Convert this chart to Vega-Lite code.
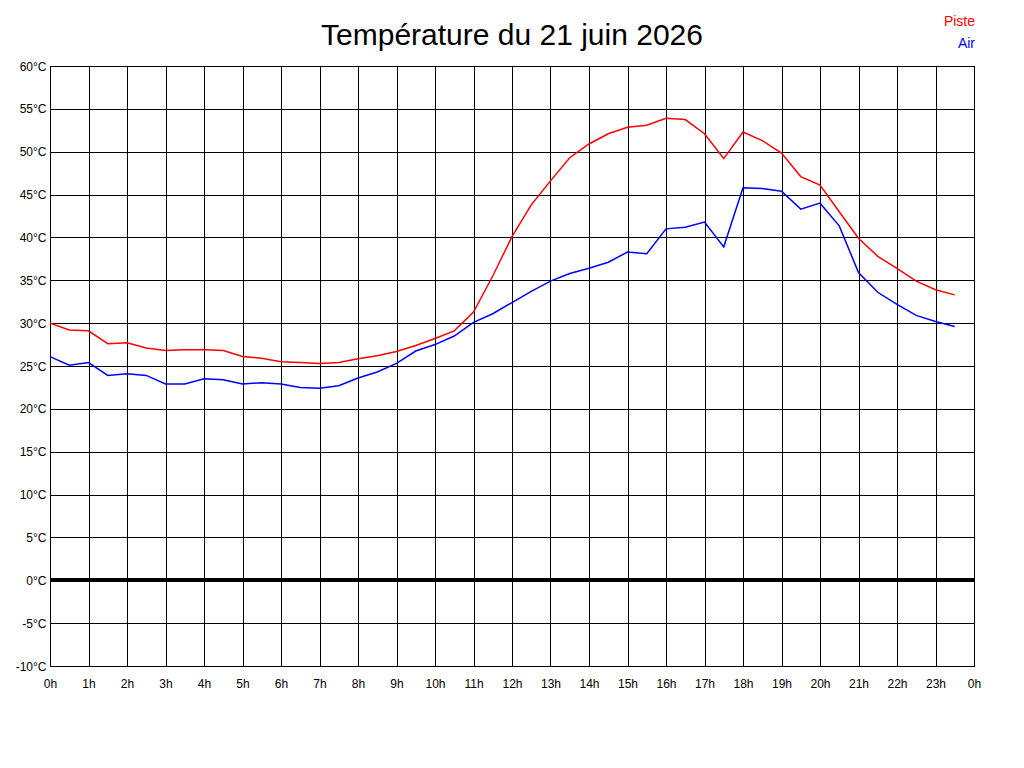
{
  "$schema": "https://vega.github.io/schema/vega-lite/v6.json",
  "autosize": {"type": "none"},
  "width": 924,
  "height": 600,
  "padding": {"left": 50, "top": 66, "right": 50, "bottom": 102},
  "background": "white",
  "title": {
    "text": "Température du 21 juin 2026",
    "font": "Liberation Sans",
    "fontSize": 30,
    "fontWeight": "normal",
    "color": "black",
    "anchor": "middle",
    "baseline": "bottom",
    "offset": -66
  },
  "config": {
    "view": {"stroke": "black", "strokeWidth": 1},
    "axis": {
      "labelFont": "Liberation Sans",
      "labelFontSize": 12,
      "labelColor": "black",
      "grid": true,
      "gridColor": "black",
      "gridOpacity": 1,
      "gridWidth": 1,
      "domain": false,
      "ticks": false,
      "title": null
    }
  },
  "data": {
    "values": [
      {"h": 0, "Piste": 30.0, "Air": 26.1},
      {"h": 0.5, "Piste": 29.2, "Air": 25.1},
      {"h": 1, "Piste": 29.1, "Air": 25.4},
      {"h": 1.5, "Piste": 27.6, "Air": 23.9},
      {"h": 2, "Piste": 27.7, "Air": 24.1},
      {"h": 2.5, "Piste": 27.1, "Air": 23.9},
      {"h": 3, "Piste": 26.8, "Air": 22.9},
      {"h": 3.5, "Piste": 26.9, "Air": 22.9},
      {"h": 4, "Piste": 26.9, "Air": 23.5},
      {"h": 4.5, "Piste": 26.8, "Air": 23.4},
      {"h": 5, "Piste": 26.1, "Air": 22.9},
      {"h": 5.5, "Piste": 25.9, "Air": 23.05},
      {"h": 6, "Piste": 25.5, "Air": 22.9},
      {"h": 6.5, "Piste": 25.4, "Air": 22.5},
      {"h": 7, "Piste": 25.3, "Air": 22.4},
      {"h": 7.5, "Piste": 25.4, "Air": 22.7},
      {"h": 8, "Piste": 25.85, "Air": 23.6},
      {"h": 8.5, "Piste": 26.2, "Air": 24.3},
      {"h": 9, "Piste": 26.7, "Air": 25.3},
      {"h": 9.5, "Piste": 27.4, "Air": 26.75},
      {"h": 10, "Piste": 28.2, "Air": 27.5},
      {"h": 10.5, "Piste": 29.1, "Air": 28.5},
      {"h": 11, "Piste": 31.3, "Air": 30.1},
      {"h": 11.5, "Piste": 35.5, "Air": 31.1},
      {"h": 12, "Piste": 40.1, "Air": 32.4},
      {"h": 12.5, "Piste": 43.8, "Air": 33.7},
      {"h": 13, "Piste": 46.6, "Air": 34.9},
      {"h": 13.5, "Piste": 49.3, "Air": 35.8},
      {"h": 14, "Piste": 50.9, "Air": 36.4},
      {"h": 14.5, "Piste": 52.1, "Air": 37.1},
      {"h": 15, "Piste": 52.85, "Air": 38.3},
      {"h": 15.5, "Piste": 53.1, "Air": 38.1},
      {"h": 16, "Piste": 53.9, "Air": 41.0},
      {"h": 16.5, "Piste": 53.75, "Air": 41.2},
      {"h": 17, "Piste": 52.1, "Air": 41.8},
      {"h": 17.5, "Piste": 49.2, "Air": 38.9},
      {"h": 18, "Piste": 52.3, "Air": 45.8},
      {"h": 18.5, "Piste": 51.3, "Air": 45.7},
      {"h": 19, "Piste": 49.85, "Air": 45.4},
      {"h": 19.5, "Piste": 47.1, "Air": 43.3},
      {"h": 20, "Piste": 46.1, "Air": 44.0},
      {"h": 20.5, "Piste": 43.0, "Air": 41.35},
      {"h": 21, "Piste": 39.9, "Air": 35.9},
      {"h": 21.5, "Piste": 37.8, "Air": 33.6},
      {"h": 22, "Piste": 36.4, "Air": 32.2},
      {"h": 22.5, "Piste": 34.9, "Air": 30.9},
      {"h": 23, "Piste": 33.9, "Air": 30.2},
      {"h": 23.5, "Piste": 33.3, "Air": 29.6}
    ]
  },
  "layer": [
    {
      "mark": {"type": "rule", "color": "black", "strokeWidth": 3},
      "encoding": {
        "y": {"datum": 0, "type": "quantitative"}
      }
    },
    {
      "transform": [
        {"fold": ["Piste", "Air"], "as": ["serie", "t"]}
      ],
      "mark": {"type": "line", "strokeWidth": 1.5},
      "encoding": {
        "x": {
          "field": "h",
          "type": "quantitative",
          "scale": {"domain": [0, 24], "nice": false, "zero": false},
          "axis": {
            "values": [0, 1, 2, 3, 4, 5, 6, 7, 8, 9, 10, 11, 12, 13, 14, 15, 16, 17, 18, 19, 20, 21, 22, 23, 24],
            "labelExpr": "(datum.value % 24) + 'h'",
            "labelPadding": 12,
            "labelFlush": false,
            "labelOverlap": false
          }
        },
        "y": {
          "field": "t",
          "type": "quantitative",
          "scale": {"domain": [-10, 60], "nice": false, "zero": false},
          "axis": {
            "values": [-10, -5, 0, 5, 10, 15, 20, 25, 30, 35, 40, 45, 50, 55, 60],
            "labelExpr": "datum.value + '°C'",
            "labelPadding": 4,
            "labelFlush": false,
            "labelOverlap": false
          }
        },
        "color": {
          "field": "serie",
          "type": "nominal",
          "scale": {"domain": ["Piste", "Air"], "range": ["#ff0000", "#0000ff"]},
          "legend": {
            "orient": "none",
            "legendX": 911,
            "legendY": -51,
            "title": null,
            "symbolSize": 0,
            "symbolStrokeWidth": 0,
            "labelFont": "Liberation Sans",
            "labelFontSize": 14,
            "labelAlign": "right",
            "labelOffset": 0,
            "rowPadding": 8,
            "encode": {
              "labels": {
                "update": {
                  "fill": {"signal": "datum.label == 'Piste' ? '#ff0000' : '#0000ff'"}
                }
              }
            }
          }
        },
        "order": {"field": "h", "type": "quantitative"}
      }
    }
  ]
}
